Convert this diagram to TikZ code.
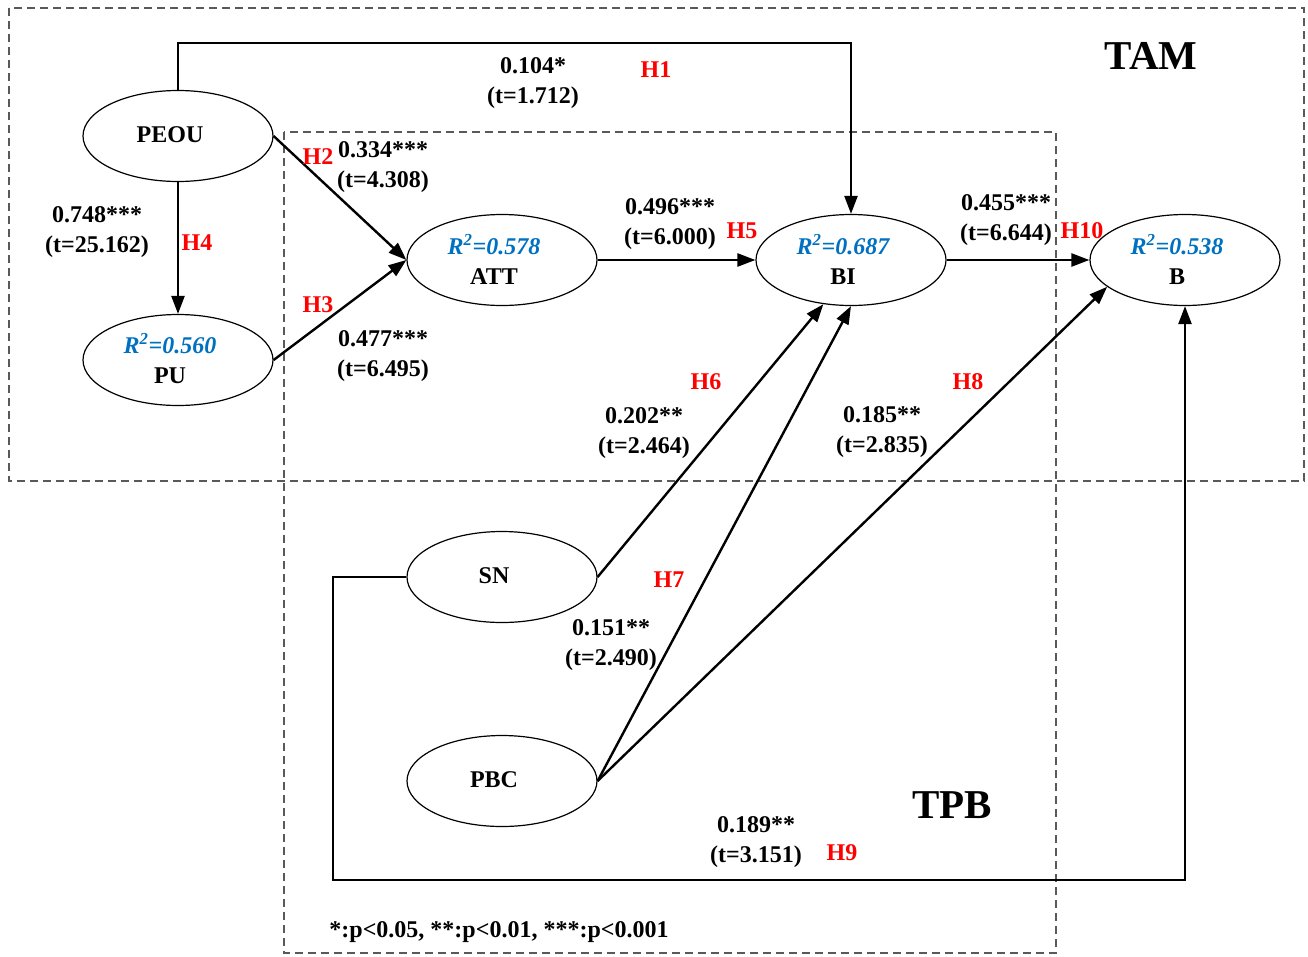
\documentclass[tikz,border=0pt]{standalone}
\usepackage{fontspec}
\setmainfont{Liberation Serif}
\usetikzlibrary{shapes.geometric,arrows.meta}
\definecolor{rblue}{RGB}{0,112,192}
\definecolor{hred}{RGB}{255,0,0}
\tikzset{
  every node/.style={font=\fontsize{24}{30}\selectfont\bfseries, inner sep=0pt, align=center},
  construct/.style={draw, ellipse, line width=1.2pt, minimum width=190pt, minimum height=91pt,
    label={[xshift=-8pt,yshift=1pt]center:#1}},
  arr/.style={line width=2.4pt, -{Triangle[length=18pt,width=13pt]}},
  frame/.style={draw=black!65, line width=1.2pt, dash pattern=on 8pt off 5pt},
  hyp/.style={text=hred},
  title/.style={font=\fontsize{41}{44}\selectfont\bfseries}
}
\newcommand{\rsq}[1]{{\color{rblue}\itshape R\textsuperscript{2}=#1}}
\begin{document}
\begin{tikzpicture}[x=1pt,y=-1pt]
            \useasboundingbox (0,0) rectangle (1308,956);

            % model frames
            \draw[frame] (9,8) rectangle (1304,481);
            \draw[frame] (284,132) rectangle (1056,953);
            \node[title] (tam) at (1151,56) {TAM};
            \node[title] (tpb) at (952,805) {TPB};

            % constructs
            \node[construct={PEOU}] (PEOU) at (178,136) {};
            \node[construct={\rsq{0.560}\\PU}] (PU) at (178,360) {};
            \node[construct={\rsq{0.578}\\ATT}] (ATT) at (502,260) {};
            \node[construct={\rsq{0.687}\\BI}] (BI) at (851,260) {};
            \node[construct={\rsq{0.538}\\B}] (B) at (1185,260) {};
            \node[construct={SN}] (SN) at (502,577) {};
            \node[construct={PBC}] (PBC) at (502,781) {};

            \coordinate (h1) at (851,43);
            \coordinate (h9) at (333,880);

            % paths
            \draw[arr] (PEOU.north) |- (h1) -- (BI.north);
            \draw[arr] (PEOU.east) -- (ATT.west);
            \draw[arr] (PU.east) -- (ATT.west);
            \draw[arr] (PEOU.south) -- (PU.north);
            \draw[arr] (ATT.east) -- (BI.west);
            \draw[arr] (BI.east) -- (B.west);
            \draw[arr] (SN.east) -- (BI.238);
            \draw[arr] (PBC.east) -- (BI.south);
            \draw[arr] (PBC.east) -- (B.199);
            \draw[arr] (SN.west) -| (h9) -| (B.south);

            % coefficients
            \node (c1) at (533,83) {0.104*\\(t=1.712)};
            \node (c2) at (383,167) {0.334***\\(t=4.308)};
            \node (c3) at (383,356) {0.477***\\(t=6.495)};
            \node (c4) at (97,232) {0.748***\\(t=25.162)};
            \node (c5) at (670,224) {0.496***\\(t=6.000)};
            \node (c6) at (644,433) {0.202**\\(t=2.464)};
            \node (c7) at (611,645) {0.151**\\(t=2.490)};
            \node (c8) at (882,432) {0.185**\\(t=2.835)};
            \node (c9) at (756,842) {0.189**\\(t=3.151)};
            \node (c10) at (1006,220) {0.455***\\(t=6.644)};

            % hypotheses
            \node[hyp] (H1) at (656,70) {H1};
            \node[hyp] (H2) at (318,157) {H2};
            \node[hyp] (H3) at (318,305) {H3};
            \node[hyp] (H4) at (197,243) {H4};
            \node[hyp] (H5) at (742,231) {H5};
            \node[hyp] (H6) at (706,382) {H6};
            \node[hyp] (H7) at (669,580) {H7};
            \node[hyp] (H8) at (968,382) {H8};
            \node[hyp] (H9) at (842,853) {H9};
            \node[hyp] (H10) at (1082,231) {H10};

            \node (note) at (499,932) {*:p<0.05, **:p<0.01, ***:p<0.001};
        \end{tikzpicture}
\end{document}
